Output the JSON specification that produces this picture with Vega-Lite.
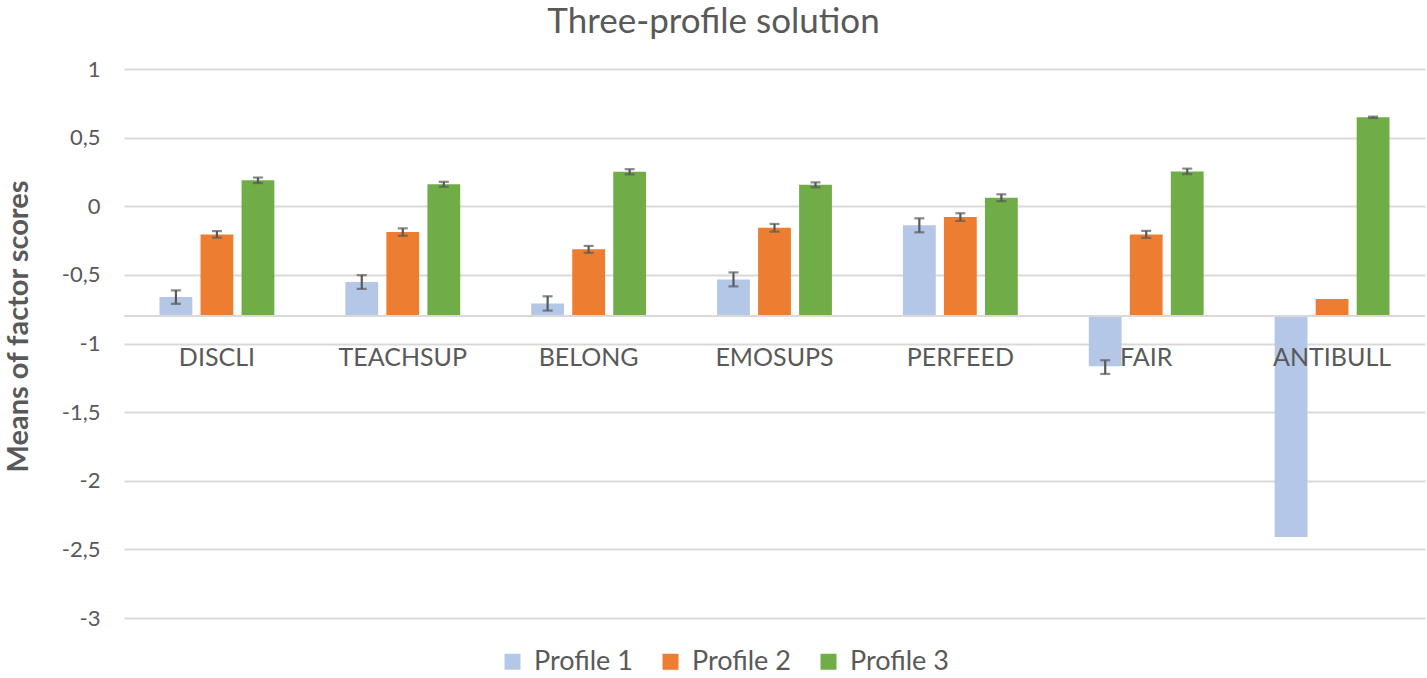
{
  "$schema": "https://vega.github.io/schema/vega-lite/v6.json",
  "autosize": "none",
  "width": 1301,
  "height": 549,
  "padding": {"left": 124, "top": 69, "right": 2, "bottom": 60},
  "background": "white",
  "config": {
    "font": "Lato",
    "view": {"stroke": null},
    "axis": {"labelColor": "#595959", "titleColor": "#595959"}
  },
  "title": {
    "text": "Three-profile solution",
    "fontSize": 35,
    "fontWeight": "normal",
    "color": "#595959",
    "anchor": "middle",
    "frame": "group",
    "baseline": "alphabetic",
    "offset": -10,
    "dx": -61
  },
  "datasets": {
    "scores": [
      {"cat": "DISCLI", "profile": "Profile 1", "value": -0.662, "lo": -0.711, "hi": -0.613},
      {"cat": "DISCLI", "profile": "Profile 2", "value": -0.205, "lo": -0.229, "hi": -0.181},
      {"cat": "DISCLI", "profile": "Profile 3", "value": 0.189, "lo": 0.169, "hi": 0.209},
      {"cat": "TEACHSUP", "profile": "Profile 1", "value": -0.552, "lo": -0.602, "hi": -0.502},
      {"cat": "TEACHSUP", "profile": "Profile 2", "value": -0.188, "lo": -0.215, "hi": -0.161},
      {"cat": "TEACHSUP", "profile": "Profile 3", "value": 0.16, "lo": 0.142, "hi": 0.178},
      {"cat": "BELONG", "profile": "Profile 1", "value": -0.708, "lo": -0.76, "hi": -0.656},
      {"cat": "BELONG", "profile": "Profile 2", "value": -0.314, "lo": -0.339, "hi": -0.289},
      {"cat": "BELONG", "profile": "Profile 3", "value": 0.251, "lo": 0.232, "hi": 0.27},
      {"cat": "EMOSUPS", "profile": "Profile 1", "value": -0.533, "lo": -0.584, "hi": -0.482},
      {"cat": "EMOSUPS", "profile": "Profile 2", "value": -0.157, "lo": -0.185, "hi": -0.129},
      {"cat": "EMOSUPS", "profile": "Profile 3", "value": 0.156, "lo": 0.138, "hi": 0.174},
      {"cat": "PERFEED", "profile": "Profile 1", "value": -0.139, "lo": -0.19, "hi": -0.088},
      {"cat": "PERFEED", "profile": "Profile 2", "value": -0.079, "lo": -0.107, "hi": -0.051},
      {"cat": "PERFEED", "profile": "Profile 3", "value": 0.062, "lo": 0.037, "hi": 0.087},
      {"cat": "FAIR", "profile": "Profile 1", "value": -1.165, "lo": -1.222, "hi": -1.122},
      {"cat": "FAIR", "profile": "Profile 2", "value": -0.205, "lo": -0.23, "hi": -0.18},
      {"cat": "FAIR", "profile": "Profile 3", "value": 0.254, "lo": 0.234, "hi": 0.274},
      {"cat": "ANTIBULL", "profile": "Profile 1", "value": -2.409, "lo": null, "hi": null},
      {"cat": "ANTIBULL", "profile": "Profile 2", "value": -0.676, "lo": null, "hi": null},
      {"cat": "ANTIBULL", "profile": "Profile 3", "value": 0.648, "lo": 0.643, "hi": 0.653}
    ],
    "cats": [
      {"cat": "DISCLI"}, {"cat": "TEACHSUP"}, {"cat": "BELONG"}, {"cat": "EMOSUPS"},
      {"cat": "PERFEED"}, {"cat": "FAIR"}, {"cat": "ANTIBULL"}
    ],
    "base": [{"b": -0.8}]
  },
  "encoding": {
    "x": {
      "field": "cat", "type": "nominal", "sort": null,
      "scale": {
        "domain": ["DISCLI", "TEACHSUP", "BELONG", "EMOSUPS", "PERFEED", "FAIR", "ANTIBULL"],
        "paddingInner": 0.338, "paddingOuter": 0.169
      },
      "axis": null
    }
  },
  "layer": [
    {
      "data": {"name": "scores"},
      "mark": {"type": "bar"},
      "encoding": {
        "xOffset": {
          "field": "profile", "type": "nominal",
          "scale": {"domain": ["Profile 1", "Profile 2", "Profile 3"], "paddingInner": 0.2, "paddingOuter": 0.1}
        },
        "y": {
          "field": "value", "type": "quantitative",
          "scale": {"domain": [-3, 1], "nice": false, "zero": false},
          "axis": {
            "values": [-3, -2.5, -2, -1.5, -1, -0.5, 0, 0.5, 1],
            "labelExpr": "replace(toString(datum.value), '.', ',')",
            "labelFontSize": 22,
            "labelPadding": 24,
            "tickSize": 0,
            "ticks": false,
            "domain": false,
            "grid": true,
            "gridColor": "#d9d9d9",
            "gridWidth": 1.8,
            "title": "Means of factor scores",
            "titleFontSize": 29,
            "titleFontWeight": "bold",
            "titleX": -106,
            "titleY": 257,
            "titleAlign": "center",
            "titleBaseline": "middle",
            "titleAngle": 270
          }
        },
        "y2": {"datum": -0.8},
        "color": {
          "field": "profile", "type": "nominal",
          "scale": {"domain": ["Profile 1", "Profile 2", "Profile 3"], "range": ["#b4c7e7", "#ed7d31", "#70ad47"]},
          "legend": {
            "title": null,
            "orient": "none",
            "direction": "horizontal",
            "legendX": 375,
            "legendY": 579,
            "symbolType": "square",
            "symbolSize": 256,
            "symbolStrokeWidth": 0,
            "labelFontSize": 27,
            "labelColor": "#595959",
            "labelOffset": 8,
            "columnPadding": 24
          }
        }
      }
    },
    {
      "data": {"name": "base"},
      "mark": {"type": "rule", "color": "#d9d9d9", "strokeWidth": 2},
      "encoding": {"x": null, "y": {"field": "b", "type": "quantitative"}}
    },
    {
      "data": {"name": "scores"},
      "transform": [{"filter": "datum.lo != null"}],
      "mark": {"type": "rule", "color": "#595959", "strokeWidth": 2.2},
      "encoding": {
        "xOffset": {"field": "profile", "type": "nominal"},
        "y": {"field": "lo", "type": "quantitative"},
        "y2": {"field": "hi"}
      }
    },
    {
      "data": {"name": "scores"},
      "transform": [{"filter": "datum.lo != null"}],
      "mark": {"type": "tick", "color": "#595959", "size": 10, "thickness": 2.2, "orient": "horizontal"},
      "encoding": {
        "xOffset": {"field": "profile", "type": "nominal"},
        "y": {"field": "lo", "type": "quantitative"}
      }
    },
    {
      "data": {"name": "scores"},
      "transform": [{"filter": "datum.lo != null"}],
      "mark": {"type": "tick", "color": "#595959", "size": 10, "thickness": 2.2, "orient": "horizontal"},
      "encoding": {
        "xOffset": {"field": "profile", "type": "nominal"},
        "y": {"field": "hi", "type": "quantitative"}
      }
    },
    {
      "data": {"name": "cats"},
      "mark": {"type": "text", "fontSize": 25, "color": "#595959", "baseline": "alphabetic", "dy": 50},
      "encoding": {
        "y": {"datum": -0.8},
        "text": {"field": "cat"}
      }
    }
  ]
}
